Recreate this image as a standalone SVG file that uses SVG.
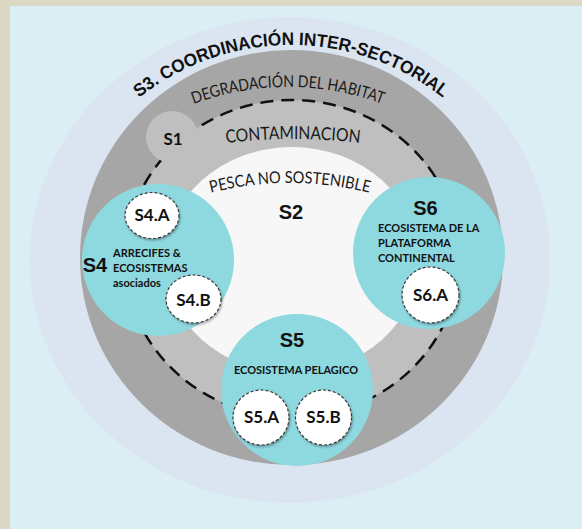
<svg xmlns="http://www.w3.org/2000/svg" width="582" height="529" viewBox="0 0 582 529">
<defs>
<style>
.big{font-family:"Liberation Sans",Arial,sans-serif;font-weight:bold;font-size:20px;fill:#111;text-anchor:middle}
.title{font-family:"Liberation Sans",Arial,sans-serif;font-weight:bold;font-size:18px;fill:#111;text-anchor:middle}
.arc{font-family:Lato,"Open Sans",sans-serif;fill:#1a1a1a;text-anchor:middle}
.sub{font-family:Lato,"Open Sans",sans-serif;font-weight:bold;font-size:11px;fill:#111}
.lbl{font-family:Lato,"Open Sans",sans-serif;font-weight:bold;font-size:17px;fill:#111;text-anchor:middle}
.teal{fill:#8ed8df}
.sm{fill:#ffffff;stroke:#3a3a3a;stroke-width:1.2;stroke-dasharray:3 2;filter:url(#sh)}
</style>
<filter id="sh" x="-20%" y="-20%" width="150%" height="150%">
<feDropShadow dx="1" dy="1.5" stdDeviation="1.2" flood-color="#000" flood-opacity="0.35"/>
</filter>
<path id="pS3" d="M 46,290 A 245 245 0 0 1 536,290"/>
<path id="pDeg" d="M 18,357 A 270 270 0 0 1 558,357"/>
<path id="pCont" d="M -253,685 A 546 546 0 0 1 839,685"/>
<path id="pPesca" d="M -35,508 A 325 325 0 0 1 615,508"/>
</defs>

<g id="background">
<rect x="0" y="0" width="582" height="529" fill="#ddd8c4"/>
<rect x="10" y="6" width="572" height="523" fill="#dbeef4"/>
</g>

<g id="S3">
<ellipse cx="290" cy="260" rx="260" ry="243" fill="#dbe5f1"/>
<text class="title"><textPath href="#pS3" startOffset="50%" textLength="328" lengthAdjust="spacingAndGlyphs">S3. COORDINACIÓN INTER-SECTORIAL</textPath></text>
</g>

<g id="degradacion">
<ellipse cx="291.5" cy="257.5" rx="211.5" ry="207.5" fill="#a6a6a6"/>
<text class="arc" font-size="16.5"><textPath href="#pDeg" startOffset="50%" textLength="193" lengthAdjust="spacingAndGlyphs">DEGRADACIÓN DEL HABITAT</textPath></text>
</g>

<g id="S1">
<ellipse cx="292" cy="258.5" rx="167" ry="158.5" fill="#bfbfbf" stroke="#111" stroke-width="2.5" stroke-dasharray="13 8"/>
<circle cx="172" cy="137" r="26" fill="#bfbfbf"/>
<text class="lbl" x="173" y="145">S1</text>
<text class="arc" font-size="18"><textPath href="#pCont" startOffset="50%" textLength="134" lengthAdjust="spacingAndGlyphs">CONTAMINACION</textPath></text>
</g>

<g id="S2">
<ellipse cx="292" cy="260" rx="127" ry="113" fill="#f7f7f7"/>
<text class="arc" font-size="16.5"><textPath href="#pPesca" startOffset="50%" textLength="160" lengthAdjust="spacingAndGlyphs">PESCA NO SOSTENIBLE</textPath></text>
<text class="big" x="291" y="219">S2</text>
</g>

<g id="S4">
<circle class="teal" cx="158" cy="260" r="76"/>
<text class="big" x="95" y="272">S4</text>
<text class="sub" x="113" y="257">ARRECIFES &amp;</text>
<text class="sub" x="113" y="272">ECOSISTEMAS</text>
<text class="sub" x="113" y="287">asociados</text>
</g>

<g id="S6">
<circle class="teal" cx="429" cy="253" r="76"/>
<text class="big" x="425.5" y="215">S6</text>
<text class="sub" x="378" y="232">ECOSISTEMA DE LA</text>
<text class="sub" x="378" y="247">PLATAFORMA</text>
<text class="sub" x="378" y="262">CONTINENTAL</text>
</g>

<g id="S5">
<circle class="teal" cx="297" cy="390" r="76"/>
<text class="big" x="292" y="347">S5</text>
<text class="sub" x="296" y="374" text-anchor="middle">ECOSISTEMA PELAGICO</text>
</g>

<g id="S4A">
<ellipse class="sm" cx="152" cy="215.5" rx="27" ry="23"/>
<text class="lbl" x="152" y="221">S4.A</text>
</g>
<g id="S4B">
<ellipse class="sm" cx="193.5" cy="299" rx="27.5" ry="24"/>
<text class="lbl" x="193.5" y="306">S4.B</text>
</g>
<g id="S6A">
<ellipse class="sm" cx="430.5" cy="295" rx="28.5" ry="28"/>
<text class="lbl" x="430.5" y="301">S6.A</text>
</g>
<g id="S5A">
<ellipse class="sm" cx="261" cy="417.5" rx="28" ry="27.5"/>
<text class="lbl" x="261.5" y="423">S5.A</text>
</g>
<g id="S5B">
<ellipse class="sm" cx="323.5" cy="417.5" rx="28" ry="27.5"/>
<text class="lbl" x="323.5" y="423">S5.B</text>
</g>

<g id="connectors"></g>
</svg>
